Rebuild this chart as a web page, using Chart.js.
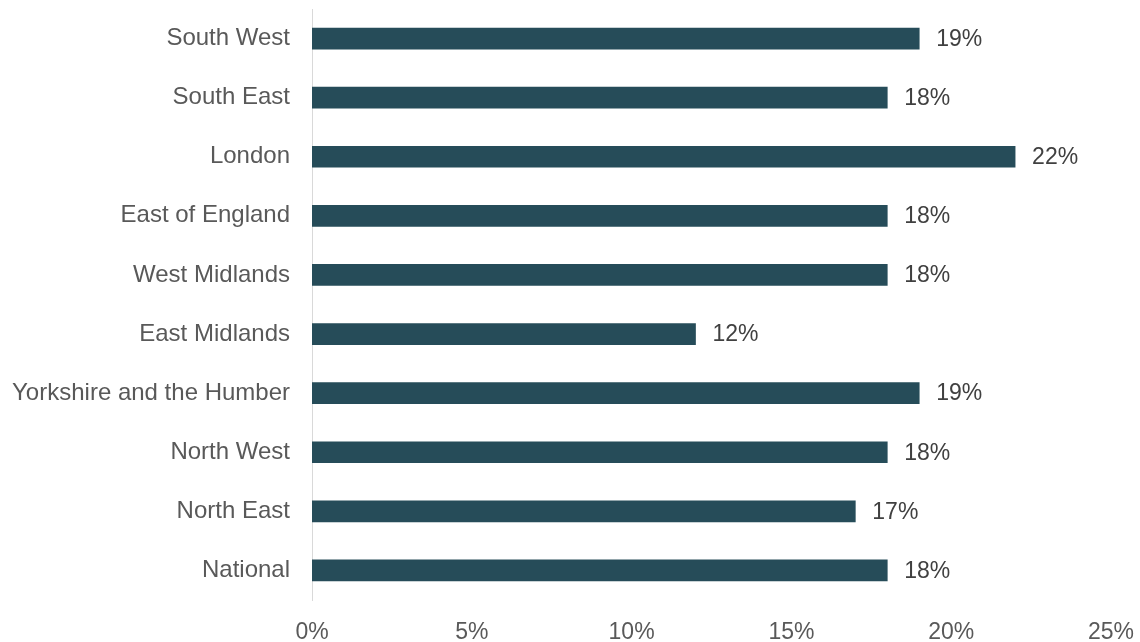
<!DOCTYPE html>
<html>
<head>
<meta charset="utf-8">
<script src="https://cdn.jsdelivr.net/npm/chart.js@4"></script>
<style>
  html, body { margin: 0; padding: 0; background: #fff; }
  #wrap { width: 1140px; height: 642px; }
</style>
</head>
<body>
<div id="wrap"><canvas id="regions"></canvas></div>
<script>
const regions = ['South West', 'South East', 'London', 'East of England', 'West Midlands',
  'East Midlands', 'Yorkshire and the Humber', 'North West', 'North East', 'National']
const shares = [19, 18, 22, 18, 18, 12, 19, 18, 17, 18]
const xTicks = [0, 5, 10, 15, 20, 25]

const barColour = '#264c59'
const fontFamily = '"Liberation Sans", Arial, sans-serif'
const labelSize = 24
const numberSize = 23

// draws the value labels just past the end of each bar
const valueLabels = {
  id: 'valueLabels',
  afterDatasetsDraw(chart) {
    const ctx = chart.ctx
    const meta = chart.getDatasetMeta(0)
    ctx.save()
    ctx.font = numberSize + 'px ' + fontFamily
    ctx.fillStyle = '#404040'
    ctx.textAlign = 'left'
    ctx.textBaseline = 'middle'
    meta.data.forEach((bar, i) => {
      ctx.fillText(shares[i] + '%', bar.x + 17, bar.y + 1)
    })
    ctx.restore()
  },
}

const ctx = document.getElementById('regions').getContext('2d')
new Chart(ctx, {
  type: 'bar',
  data: {
    labels: regions,
    datasets: [{
      data: shares,
      backgroundColor: barColour,
      barThickness: 21,
    }],
  },
  options: {
    indexAxis: 'y',
    responsive: true,
    maintainAspectRatio: false,
    animation: false,
    layout: { padding: { top: 9, right: 29, left: 0, bottom: 0 } },
    plugins: {
      legend: { display: false },
      tooltip: { enabled: false },
    },
    scales: {
      x: {
        min: 0,
        max: 25,
        afterBuildTicks: axis => { axis.ticks = xTicks.map(v => ({ value: v })) },
        afterFit: axis => {
          axis.height = 42
          axis.paddingLeft = 0
          axis.paddingRight = 0
        },
        grid: { display: false, drawTicks: false },
        border: { display: false },
        ticks: {
          padding: 19,
          color: '#595959',
          font: { family: fontFamily, size: numberSize },
          callback: v => v + '%',
        },
      },
      y: {
        afterFit: axis => {
          axis.width = 312
          axis.paddingTop = 0
          axis.paddingBottom = 0
        },
        grid: { display: false, drawTicks: false },
        border: { display: true, color: '#d9d9d9', width: 1 },
        ticks: {
          padding: 22,
          color: '#595959',
          font: { family: fontFamily, size: labelSize },
        },
      },
    },
  },
  plugins: [valueLabels],
})
</script>
</body>
</html>
